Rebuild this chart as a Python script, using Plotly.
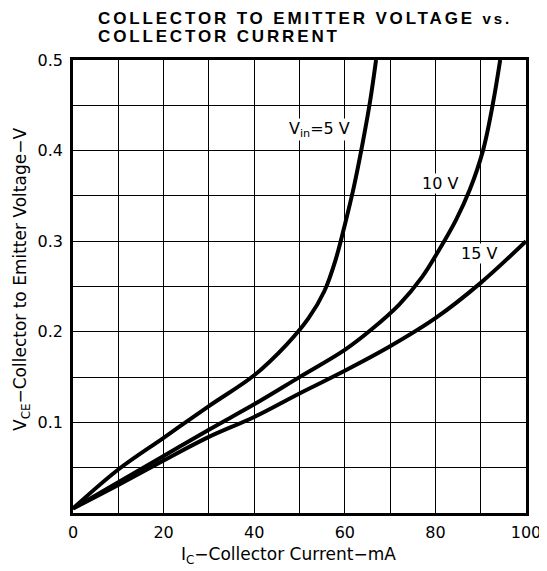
import plotly.graph_objects as go

# Data
ic_5v = [0, 10, 20, 30, 40, 47, 52, 55.5, 58, 60, 62, 64, 65.6, 66.9]
vce_5v = [0.005, 0.048, 0.083, 0.118, 0.152, 0.185, 0.215, 0.245, 0.280, 0.318, 0.360, 0.410, 0.455, 0.500]

ic_10v = [0, 10, 20, 30, 40, 50, 60, 66, 72, 77, 81, 84.5, 87.6, 90.5, 92.7, 94.3]
vce_10v = [0.005, 0.034, 0.063, 0.092, 0.120, 0.150, 0.180, 0.203, 0.230, 0.260, 0.292, 0.323, 0.357, 0.400, 0.452, 0.500]

ic_15v = [0, 10, 20, 30, 40, 50, 60, 70, 80, 90, 100]
vce_15v = [0.005, 0.031, 0.058, 0.084, 0.106, 0.132, 0.157, 0.184, 0.215, 0.254, 0.300]

x_ticks = [0, 20, 40, 60, 80, 100]
y_ticks = [0.1, 0.2, 0.3, 0.4, 0.5]
y_tick_text = ["0.1", "0.2", "0.3", "0.4", "0.5"]

curve_labels = ["V<sub>in</sub>=5 V", "10 V", "15 V"]
label_x = [54.5, 81, 89.6]
label_y = [0.423, 0.364, 0.286]

title_lines = ["COLLECTOR TO EMITTER VOLTAGE <span style='font-size:15px'>vs.</span>",
               "COLLECTOR CURRENT"]
x_title = "I<sub>C</sub>\u2212Collector Current\u2212mA"
y_title = "V<sub>CE</sub>\u2212Collector to Emitter Voltage\u2212V"

FONT = "DejaVu Sans, sans-serif"
TFONT = "Liberation Sans, Arial, sans-serif"

# plot area (window pixels): x 73..526, y 60..513; page body has an 8px margin
OFF = 8
PX0, PY0, PW, PH = 73, 60, 453, 453
FIG_W, FIG_H = 547 - OFF, 571 - OFF
ML, MT = PX0 - OFF, PY0 - OFF
MR, MB = FIG_W - ML - PW, FIG_H - MT - PH


def px(wx):
    return (wx - PX0) / PW


def py(wy):
    return (PY0 + PH - wy) / PH


fig = go.Figure()
for xs, ys in [(ic_5v, vce_5v), (ic_10v, vce_10v), (ic_15v, vce_15v)]:
    fig.add_trace(go.Scatter(x=xs, y=ys, mode="lines",
                             line=dict(color="black", width=4, shape="spline", smoothing=1.0),
                             showlegend=False, hoverinfo="skip"))

for t, xv, yv in zip(curve_labels, label_x, label_y):
    fig.add_annotation(x=xv, y=yv, text=t, showarrow=False, xref="x", yref="y",
                       font=dict(family=FONT, size=16, color="black"), bgcolor="white",
                       borderpad=0)

for t, wy in zip(title_lines, [18.5, 36.5]):
    fig.add_annotation(text="<span style='letter-spacing:2.85px'>" + t + "</span>",
                       x=px(96), y=py(wy),
                       xref="paper", yref="paper", xanchor="left", yanchor="middle",
                       showarrow=False,
                       font=dict(family=TFONT, size=17, color="black", weight="bold"))

fig.add_annotation(text=x_title, x=px(288), y=py(555), xref="paper", yref="paper",
                   xanchor="center", yanchor="middle", showarrow=False,
                   font=dict(family=FONT, size=17, color="black"))
fig.add_annotation(text=y_title, x=px(21), y=py(280), xref="paper", yref="paper",
                   xanchor="center", yanchor="middle", showarrow=False, textangle=-90,
                   font=dict(family=FONT, size=17, color="black"))

fig.update_layout(
    width=FIG_W, height=FIG_H,
    margin=dict(l=ML, r=MR, t=MT, b=MB, autoexpand=False),
    paper_bgcolor="white", plot_bgcolor="white",
    font=dict(family=FONT, size=16, color="black"),
    xaxis=dict(range=[0, 100], tickvals=x_ticks, ticks="", showgrid=True,
               gridcolor="black", gridwidth=1.3, showline=True, linecolor="black",
               linewidth=2.5, mirror=True, zeroline=False, automargin=False,
               minor=dict(dtick=10, showgrid=True, gridcolor="black", gridwidth=1.3),
               tickfont=dict(size=16), ticklabelstandoff=3, ticklabeloverflow="allow"),
    yaxis=dict(range=[0, 0.5], tickvals=y_ticks, ticktext=y_tick_text, ticks="",
               showgrid=True, gridcolor="black", gridwidth=1.3, showline=True,
               linecolor="black", linewidth=2.5, mirror=True, zeroline=False,
               automargin=False,
               minor=dict(dtick=0.05, showgrid=True, gridcolor="black", gridwidth=1.3),
               tickfont=dict(size=16), ticklabelstandoff=4),
)

fig.write_html("out.html")
